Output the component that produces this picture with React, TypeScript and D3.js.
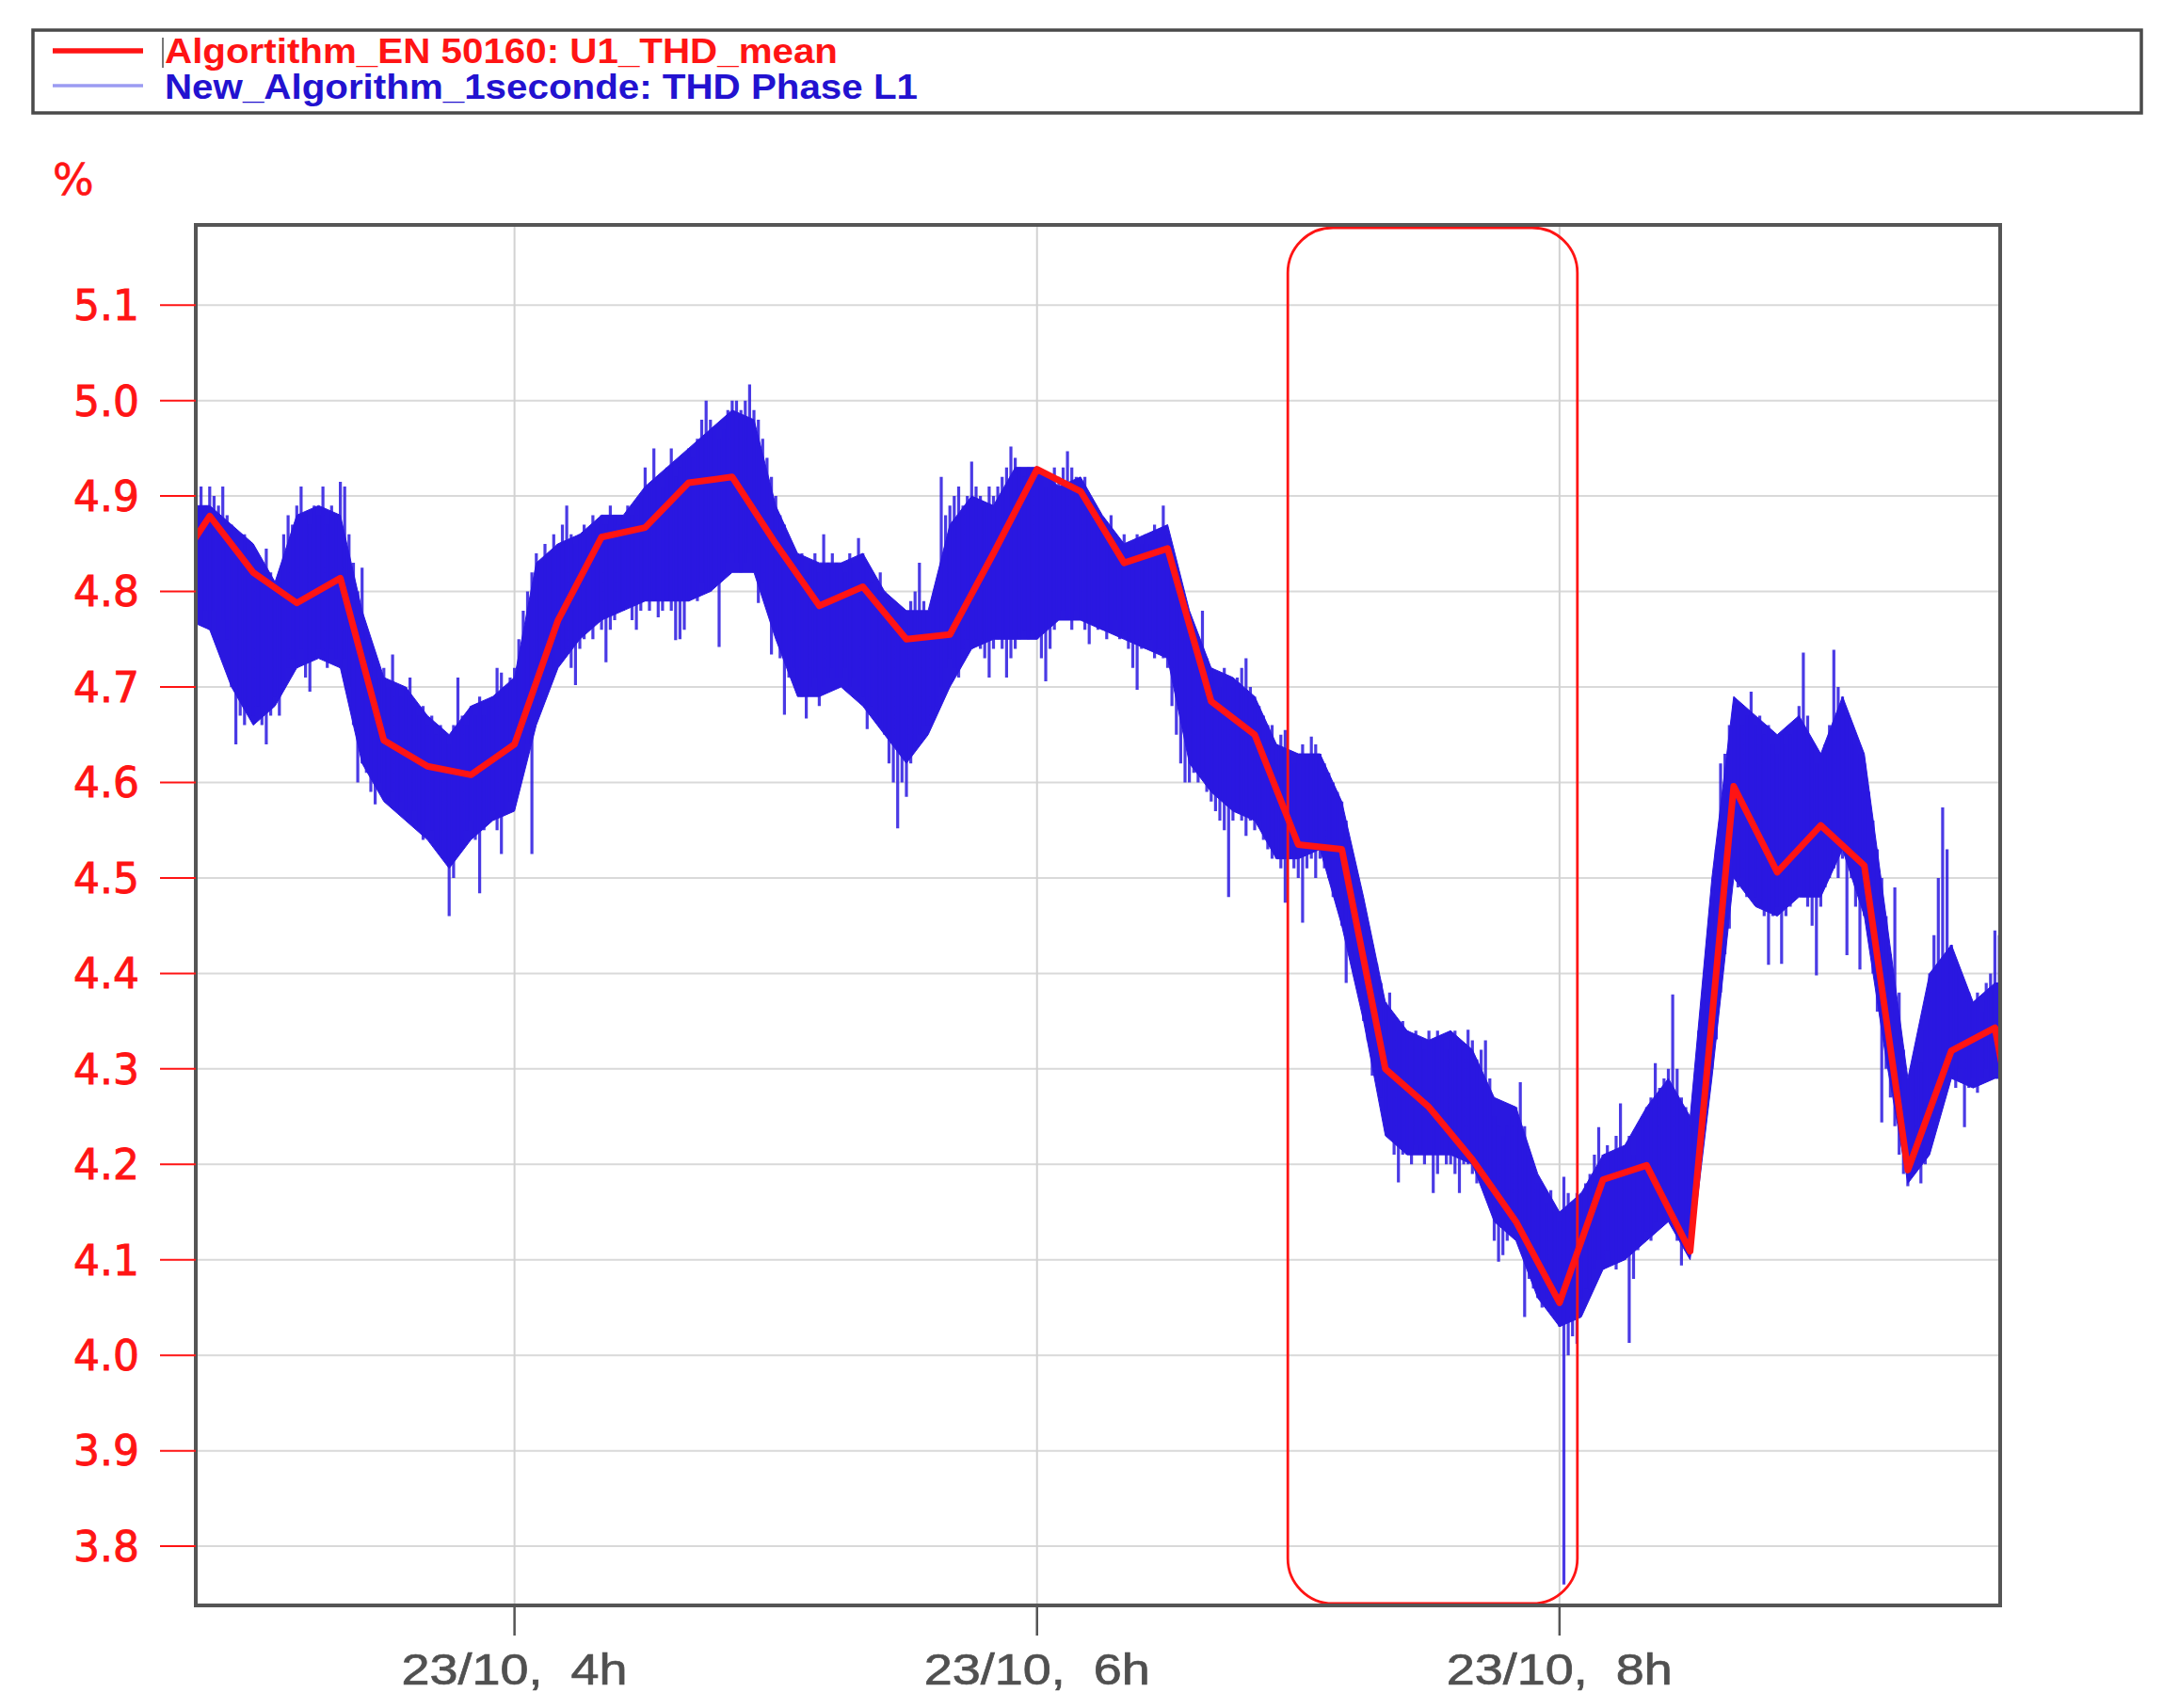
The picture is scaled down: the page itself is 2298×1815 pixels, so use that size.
import React from 'react';
import * as d3 from 'd3';

const W = 2298;
const H = 1815;

// time in minutes since midnight (23/10)
const X_DOMAIN = [166.8, 581.2];
const Y_DOMAIN = [3.738, 5.184];

const Y_TICKS = [3.8, 3.9, 4.0, 4.1, 4.2, 4.3, 4.4, 4.5, 4.6, 4.7, 4.8, 4.9, 5.0, 5.1];
const X_TICKS = [240, 360, 480];
const X_TICK_LABELS = ['23/10,  4h', '23/10,  6h', '23/10,  8h'];

const LEGEND_LABELS = ['Algortithm_EN 50160: U1_THD_mean', 'New_Algorithm_1seconde: THD Phase L1'];
const Y_UNIT = '%';

// 10-minute mean (EN 50160)
const MEAN_TIMES = [160, 170, 180, 190, 200, 210, 220, 230, 240, 250, 260, 270, 280, 290, 300, 310, 320, 330, 340, 350, 360, 370, 380, 390, 400, 410, 420, 430, 440, 450, 460, 470, 480, 490, 500, 510, 520, 530, 540, 550, 560, 570, 580, 590];
const MEAN_VALUES = [4.81, 4.879, 4.82, 4.788, 4.814, 4.644, 4.617, 4.608, 4.64, 4.77, 4.857, 4.867, 4.914, 4.92, 4.85, 4.785, 4.805, 4.75, 4.755, 4.84, 4.928, 4.905, 4.83, 4.845, 4.685, 4.65, 4.535, 4.53, 4.3, 4.26, 4.205, 4.14, 4.055, 4.184, 4.199, 4.109, 4.596, 4.506, 4.555, 4.513, 4.194, 4.319, 4.343, 4.1];

// 1-second series, summarised per minute (max / min), starting at minute 165
const SPIKE_START = 165;
const BLUE_HI = [
  4.89, 4.90, 4.88, 4.91, 4.89, 4.91, 4.90, 4.89, 4.91, 4.88,
  4.87, 4.85, 4.84, 4.86, 4.82, 4.84, 4.81, 4.83, 4.845, 4.82,
  4.80, 4.81, 4.86, 4.88, 4.87, 4.89, 4.91, 4.88, 4.87, 4.89,
  4.88, 4.91, 4.87, 4.89, 4.88, 4.915, 4.91, 4.86, 4.83, 4.80,
  4.825, 4.76, 4.74, 4.72, 4.71, 4.72, 4.70, 4.734, 4.70, 4.69,
  4.70, 4.71, 4.68, 4.67, 4.68, 4.66, 4.67, 4.65, 4.66, 4.65,
  4.64, 4.66, 4.71, 4.67, 4.66, 4.68, 4.67, 4.69, 4.67, 4.68,
  4.69, 4.72, 4.715, 4.70, 4.71, 4.72, 4.75, 4.78, 4.80, 4.82,
  4.84, 4.83, 4.85, 4.84, 4.86, 4.85, 4.87, 4.89, 4.86, 4.85,
  4.86, 4.87, 4.86, 4.88, 4.87, 4.88, 4.87, 4.89, 4.88, 4.87,
  4.88, 4.89, 4.88, 4.89, 4.90, 4.93, 4.91, 4.95, 4.92, 4.91,
  4.93, 4.95, 4.92, 4.93, 4.94, 4.95, 4.94, 4.96, 4.98, 5.00,
  4.98, 4.97, 4.96, 4.97, 4.99, 5.00, 5.00, 4.99, 5.00, 5.017,
  4.99, 4.98, 4.96, 4.94, 4.92, 4.90, 4.88, 4.87, 4.85, 4.84,
  4.83, 4.84, 4.82, 4.83, 4.84, 4.82, 4.86, 4.83, 4.84, 4.83,
  4.83, 4.82, 4.84, 4.83, 4.856, 4.84, 4.83, 4.81, 4.80, 4.82,
  4.80, 4.79, 4.78, 4.77, 4.78, 4.77, 4.79, 4.80, 4.83, 4.79,
  4.78, 4.79, 4.80, 4.92, 4.88, 4.89, 4.90, 4.91, 4.89, 4.90,
  4.936, 4.91, 4.90, 4.89, 4.91, 4.90, 4.91, 4.92, 4.93, 4.952,
  4.94, 4.93, 4.92, 4.93, 4.92, 4.93, 4.92, 4.91, 4.92, 4.93,
  4.92, 4.93, 4.947, 4.93, 4.92, 4.91, 4.92, 4.90, 4.89, 4.88,
  4.87, 4.86, 4.88, 4.86, 4.85, 4.86, 4.84, 4.85, 4.86, 4.85,
  4.86, 4.85, 4.87, 4.86, 4.89, 4.86, 4.84, 4.80, 4.78, 4.76,
  4.77, 4.76, 4.74, 4.78, 4.73, 4.72, 4.71, 4.70, 4.72, 4.71,
  4.70, 4.71, 4.72, 4.73, 4.70, 4.69, 4.68, 4.67, 4.66, 4.66,
  4.64, 4.65, 4.655, 4.63, 4.62, 4.63, 4.64, 4.63, 4.648, 4.64,
  4.63, 4.62, 4.61, 4.60, 4.59, 4.58, 4.56, 4.53, 4.50, 4.49,
  4.47, 4.45, 4.43, 4.41, 4.39, 4.37, 4.38, 4.35, 4.34, 4.35,
  4.34, 4.33, 4.34, 4.33, 4.32, 4.34, 4.33, 4.34, 4.33, 4.32,
  4.33, 4.34, 4.33, 4.32, 4.341, 4.33, 4.31, 4.32, 4.33, 4.29,
  4.25, 4.24, 4.23, 4.24, 4.25, 4.26, 4.286, 4.24, 4.21, 4.19,
  4.18, 4.17, 4.16, 4.173, 4.15, 4.14, 4.187, 4.17, 4.16, 4.17,
  4.17, 4.18, 4.19, 4.21, 4.239, 4.21, 4.22, 4.21, 4.23, 4.264,
  4.22, 4.23, 4.21, 4.24, 4.25, 4.26, 4.27, 4.306, 4.28, 4.29,
  4.30, 4.378, 4.30, 4.27, 4.26, 4.24, 4.28, 4.34, 4.38, 4.42,
  4.48, 4.53, 4.62, 4.63, 4.66, 4.68, 4.67, 4.66, 4.67, 4.695,
  4.66, 4.67, 4.65, 4.66, 4.64, 4.63, 4.65, 4.64, 4.65, 4.66,
  4.68, 4.736, 4.67, 4.64, 4.62, 4.63, 4.64, 4.66, 4.739, 4.70,
  4.69, 4.67, 4.65, 4.64, 4.63, 4.62, 4.59, 4.56, 4.53, 4.50,
  4.46, 4.42, 4.49, 4.38, 4.32, 4.29, 4.30, 4.31, 4.306, 4.34,
  4.40, 4.44, 4.50, 4.574, 4.53, 4.43, 4.41, 4.40, 4.39, 4.38,
  4.37, 4.38, 4.36, 4.39, 4.40, 4.445, 4.44, 4.42, 4.40, 4.39,
];
const BLUE_LO = [
  4.78, 4.79, 4.77, 4.77, 4.78, 4.76, 4.78, 4.745, 4.77, 4.75,
  4.70, 4.64, 4.67, 4.66, 4.68, 4.67, 4.68, 4.66, 4.64, 4.67,
  4.69, 4.67, 4.70, 4.72, 4.73, 4.72, 4.74, 4.71, 4.695, 4.73,
  4.74, 4.73, 4.72, 4.74, 4.73, 4.72, 4.73, 4.70, 4.66, 4.60,
  4.62, 4.61, 4.59, 4.577, 4.60, 4.59, 4.58, 4.59, 4.57, 4.58,
  4.57, 4.56, 4.57, 4.55, 4.54, 4.56, 4.55, 4.54, 4.53, 4.52,
  4.46, 4.50, 4.53, 4.54, 4.55, 4.56, 4.54, 4.484, 4.55, 4.56,
  4.57, 4.55, 4.525, 4.57, 4.58, 4.59, 4.60, 4.63, 4.64, 4.525,
  4.67, 4.69, 4.71, 4.73, 4.72, 4.74, 4.73, 4.74, 4.72, 4.702,
  4.74, 4.75, 4.76, 4.75, 4.77, 4.76, 4.726, 4.76, 4.77, 4.78,
  4.78, 4.79, 4.77, 4.76, 4.78, 4.79, 4.78, 4.79, 4.773, 4.78,
  4.79, 4.78, 4.749, 4.75, 4.76, 4.79, 4.80, 4.79, 4.81, 4.80,
  4.80, 4.81, 4.742, 4.82, 4.83, 4.84, 4.83, 4.82, 4.83, 4.84,
  4.82, 4.788, 4.81, 4.79, 4.734, 4.76, 4.73, 4.671, 4.71, 4.72,
  4.70, 4.69, 4.667, 4.70, 4.71, 4.68, 4.70, 4.71, 4.72, 4.71,
  4.71, 4.72, 4.70, 4.71, 4.70, 4.69, 4.656, 4.68, 4.67, 4.66,
  4.65, 4.62, 4.60, 4.552, 4.60, 4.585, 4.62, 4.64, 4.65, 4.66,
  4.66, 4.67, 4.68, 4.70, 4.72, 4.73, 4.72, 4.71, 4.74, 4.75,
  4.74, 4.75, 4.74, 4.73, 4.71, 4.74, 4.75, 4.74, 4.71, 4.73,
  4.74, 4.75, 4.76, 4.75, 4.76, 4.75, 4.73, 4.706, 4.74, 4.76,
  4.77, 4.78, 4.77, 4.76, 4.78, 4.77, 4.76, 4.745, 4.77, 4.76,
  4.76, 4.75, 4.76, 4.77, 4.75, 4.76, 4.74, 4.72, 4.697, 4.74,
  4.74, 4.75, 4.73, 4.74, 4.73, 4.72, 4.68, 4.65, 4.62, 4.60,
  4.60, 4.61, 4.60, 4.61, 4.59, 4.58, 4.57, 4.56, 4.55, 4.48,
  4.56, 4.57, 4.56, 4.544, 4.56, 4.55, 4.56, 4.54, 4.53, 4.52,
  4.52, 4.51, 4.474, 4.52, 4.51, 4.50, 4.453, 4.51, 4.52, 4.50,
  4.52, 4.51, 4.50, 4.48, 4.47, 4.45, 4.39, 4.42, 4.40, 4.38,
  4.35, 4.33, 4.293, 4.29, 4.27, 4.24, 4.23, 4.21, 4.181, 4.21,
  4.21, 4.20, 4.22, 4.21, 4.20, 4.21, 4.17, 4.19, 4.21, 4.20,
  4.20, 4.19, 4.17, 4.20, 4.20, 4.19, 4.18, 4.19, 4.17, 4.16,
  4.12, 4.098, 4.105, 4.12, 4.13, 4.14, 4.12, 4.04, 4.08, 4.07,
  4.06, 4.05, 4.06, 4.05, 4.04, 4.03, 3.76, 4.00, 4.02, 4.012,
  4.06, 4.07, 4.069, 4.09, 4.10, 4.09, 4.11, 4.10, 4.09, 4.10,
  4.10, 4.013, 4.08, 4.11, 4.12, 4.13, 4.12, 4.14, 4.15, 4.14,
  4.15, 4.14, 4.12, 4.094, 4.11, 4.11, 4.15, 4.21, 4.24, 4.27,
  4.30, 4.331, 4.38, 4.42, 4.447, 4.50, 4.49, 4.50, 4.48, 4.49,
  4.48, 4.47, 4.46, 4.409, 4.46, 4.47, 4.41, 4.46, 4.47, 4.48,
  4.49, 4.48, 4.47, 4.45, 4.398, 4.47, 4.49, 4.50, 4.51, 4.50,
  4.52, 4.419, 4.50, 4.47, 4.404, 4.46, 4.44, 4.40, 4.36, 4.244,
  4.30, 4.27, 4.24, 4.21, 4.19, 4.177, 4.19, 4.20, 4.18, 4.20,
  4.22, 4.24, 4.27, 4.29, 4.30, 4.29, 4.28, 4.30, 4.239, 4.28,
  4.29, 4.275, 4.29, 4.30, 4.29, 4.31, 4.30, 4.31, 4.30, 4.30,
];

// dense core of the 1-second series, every 5 minutes from minute 165
const CORE_START = 165;
const CORE_STEP = 5;
const CORE_HI = [4.89, 4.89, 4.87, 4.85, 4.81, 4.88, 4.89, 4.88, 4.78, 4.71, 4.70, 4.67, 4.65, 4.68, 4.69, 4.71, 4.83, 4.85, 4.86, 4.88, 4.88, 4.91, 4.93, 4.95, 4.97, 4.99, 4.98, 4.89, 4.84, 4.83, 4.83, 4.84, 4.80, 4.78, 4.78, 4.87, 4.90, 4.89, 4.93, 4.93, 4.91, 4.92, 4.88, 4.85, 4.86, 4.87, 4.78, 4.72, 4.71, 4.69, 4.64, 4.63, 4.63, 4.58, 4.48, 4.37, 4.34, 4.33, 4.34, 4.32, 4.27, 4.26, 4.19, 4.15, 4.17, 4.21, 4.22, 4.26, 4.29, 4.25, 4.50, 4.69, 4.67, 4.65, 4.67, 4.63, 4.69, 4.63, 4.46, 4.29, 4.40, 4.43, 4.37, 4.39, 4.39];
const CORE_LO = [4.77, 4.76, 4.70, 4.66, 4.68, 4.72, 4.73, 4.72, 4.62, 4.58, 4.56, 4.54, 4.51, 4.54, 4.56, 4.57, 4.66, 4.72, 4.75, 4.77, 4.78, 4.79, 4.79, 4.79, 4.80, 4.82, 4.82, 4.75, 4.69, 4.69, 4.70, 4.68, 4.65, 4.62, 4.65, 4.70, 4.74, 4.75, 4.75, 4.75, 4.77, 4.77, 4.76, 4.75, 4.74, 4.73, 4.62, 4.59, 4.57, 4.56, 4.52, 4.52, 4.53, 4.45, 4.35, 4.23, 4.21, 4.21, 4.21, 4.20, 4.14, 4.12, 4.06, 4.03, 4.04, 4.09, 4.10, 4.12, 4.14, 4.10, 4.29, 4.50, 4.47, 4.46, 4.48, 4.48, 4.53, 4.46, 4.31, 4.18, 4.21, 4.29, 4.28, 4.29, 4.29];

// highlighted interval (minutes)
const HIGHLIGHT = [417.6, 484.1];

export default function App() {
  const left = 208, right = 2125, top = 239, bottom = 1706;
  const x = d3.scaleLinear().domain(X_DOMAIN).range([left, right]);
  const y = d3.scaleLinear().domain(Y_DOMAIN).range([bottom, top]);

  const core = CORE_HI.map((h, i) => ({ t: CORE_START + i * CORE_STEP, hi: h, lo: CORE_LO[i] }));
  const areaGen = d3.area<any>().x((d) => x(d.t)).y0((d) => y(d.lo)).y1((d) => y(d.hi));
  const spikesD = BLUE_HI.map((h, i) => {
    const t = SPIKE_START + i;
    return `M${x(t).toFixed(1)},${y(BLUE_LO[i]).toFixed(1)}V${y(h).toFixed(1)}`;
  }).join('');
  const lineGen = d3.line<number>().x((_, i) => x(MEAN_TIMES[i])).y((v) => y(v));

  const red = '#ff1414';
  const blue = '#2a18e0';
  const sans = 'Liberation Sans, Arial, sans-serif';
  const dejavu = 'DejaVu Sans, Verdana, sans-serif';

  return (
    <svg width={W} height={H} style={{ position: 'absolute', left: 0, top: 0 }} xmlns="http://www.w3.org/2000/svg">
      <rect x={0} y={0} width={W} height={H} fill="#ffffff" />
      <defs>
        <clipPath id="plotClip">
          <rect x={left} y={top} width={right - left} height={bottom - top} />
        </clipPath>
      </defs>

      {/* Legend */}
      <rect x={35} y={32} width={2240} height={88} fill="#fff" stroke="#4a4a4a" strokeWidth={3.5} />
      <line x1={56} x2={152} y1={54} y2={54} stroke={red} strokeWidth={5.5} />
      <line x1={56} x2={152} y1={91} y2={91} stroke="#9b9bf2" strokeWidth={3.5} />
      <line x1={173} x2={173} y1={40} y2={72} stroke="#777" strokeWidth={2} />
      <text x={175} y={67} fill={red} fontFamily={sans} fontWeight="bold" fontSize={37} textLength={715} lengthAdjust="spacingAndGlyphs">{LEGEND_LABELS[0]}</text>
      <text x={175} y={105} fill="#2212d0" fontFamily={sans} fontWeight="bold" fontSize={37} textLength={800} lengthAdjust="spacingAndGlyphs">{LEGEND_LABELS[1]}</text>

      {/* unit */}
      <text x={56} y={207} fill={red} fontFamily={dejavu} fontSize={46} stroke={red} strokeWidth={0.6}>{Y_UNIT}</text>

      {/* grid */}
      {Y_TICKS.map((v) => (
        <line key={'gy' + v} x1={left} x2={right} y1={y(v)} y2={y(v)} stroke="#d9d9d9" strokeWidth={2} />
      ))}
      {X_TICKS.map((t) => (
        <line key={'gx' + t} x1={x(t)} x2={x(t)} y1={top} y2={bottom} stroke="#d2d2d2" strokeWidth={2} />
      ))}

      {/* data */}
      <g clipPath="url(#plotClip)">
        <path d={areaGen(core) || ''} fill={blue} stroke={blue} strokeWidth={1} />
        <path d={spikesD} stroke={blue} strokeOpacity={0.85} strokeWidth={3.2} fill="none" />
        <path d={lineGen(MEAN_VALUES) || ''} fill="none" stroke={red} strokeWidth={7} strokeLinejoin="round" />
      </g>

      {/* highlight */}
      <rect x={x(HIGHLIGHT[0])} y={top + 3} width={x(HIGHLIGHT[1]) - x(HIGHLIGHT[0])} height={bottom - top - 5} rx={48} ry={48} fill="none" stroke={red} strokeWidth={2.8} />

      {/* frame */}
      <rect x={left} y={top} width={right - left} height={bottom - top} fill="none" stroke="#555" strokeWidth={4} />

      {/* y axis ticks */}
      {Y_TICKS.map((v) => (
        <g key={'ty' + v}>
          <line x1={170} x2={left} y1={y(v)} y2={y(v)} stroke={red} strokeWidth={2} />
          <text x={148} y={y(v)} dy="0.36em" textAnchor="end" fill={red} stroke={red} strokeWidth={0.9} fontFamily={dejavu} fontSize={44}>{v.toFixed(1)}</text>
        </g>
      ))}

      {/* x axis ticks */}
      {X_TICKS.map((t, i) => (
        <g key={'tx' + t}>
          <line x1={x(t)} x2={x(t)} y1={bottom} y2={bottom + 32} stroke="#555" strokeWidth={2.5} />
          <text x={x(t)} y={1790} textAnchor="middle" fill="#505050" stroke="#505050" strokeWidth={0.7} fontFamily={sans} fontSize={46} textLength={240} lengthAdjust="spacingAndGlyphs" style={{ whiteSpace: 'pre' }}>{X_TICK_LABELS[i]}</text>
        </g>
      ))}
    </svg>
  );
}
